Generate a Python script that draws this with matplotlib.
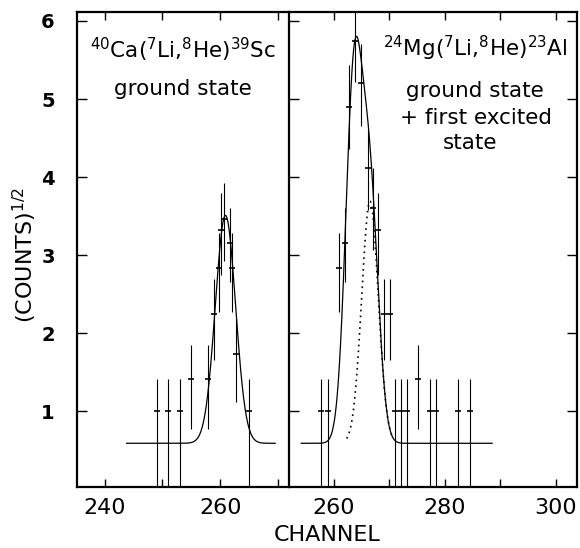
import matplotlib
matplotlib.use("Agg")
import matplotlib.pyplot as plt
import numpy as np

plt.rcParams['font.family'] = ['DejaVu Sans']
plt.rcParams['mathtext.default'] = 'regular'

# 40Ca(7Li,8He)39Sc  -- channel, sqrt(counts), error bar low / high
L_ch = [249.1, 251.0, 253.1, 255.0, 257.9, 259.0, 259.7, 260.1, 260.7, 261.7, 262.0, 262.8, 265.0]
L_val = [1.0, 1.0, 1.0, 1.41, 1.41, 2.24, 2.83, 3.32, 3.46, 3.16, 2.83, 1.73, 1.0]
L_lo = [0.0, 0.0, 0.0, 0.77, 0.77, 1.66, 2.27, 2.75, 2.92, 2.65, 2.27, 1.12, 0.0]
L_hi = [1.41, 1.41, 1.41, 1.85, 1.85, 2.70, 3.29, 3.79, 3.93, 3.60, 3.29, 2.18, 1.41]

# 24Mg(7Li,8He)23Al
R_ch = [257.7, 258.9, 260.9, 262.0, 262.7, 263.8, 264.9, 266.1, 267.0, 267.9,
        269.0, 270.1, 271.0, 272.1, 273.2, 275.2, 277.3, 278.4, 282.3, 284.5]
R_val = [1.0, 1.0, 2.83, 3.16, 4.90, 5.74, 5.20, 4.12, 3.61, 3.32,
         2.24, 2.24, 1.0, 1.0, 1.0, 1.41, 1.0, 1.0, 1.0, 1.0]
R_lo = [0.0, 0.0, 2.27, 2.65, 4.36, 5.22, 4.66, 3.58, 3.06, 2.75,
        1.66, 1.66, 0.0, 0.0, 0.0, 0.77, 0.0, 0.0, 0.0, 0.0]
R_hi = [1.41, 1.41, 3.29, 3.60, 5.43, 6.22, 5.70, 4.61, 4.12, 3.79,
        2.70, 2.70, 1.41, 1.41, 1.41, 1.85, 1.41, 1.41, 1.41, 1.41]

# fitted peaks: background, centre, height, width
bg = 0.59
L_fit = (260.9, 2.92, 1.75)
R_gs = (263.6, 4.6, 1.5)
R_ex = (266.5, 3.1, 1.5)
L_range = (243.8, 269.5)
R_range = (254.1, 288.5)


def peak(x, p):
    c, a, s = p
    return a * np.exp(-(x - c) ** 2 / (2 * s ** 2))


def draw_points(ax, ch, val, lo, hi):
    val = np.array(val)
    err = [val - np.array(lo), np.array(hi) - val]
    ax.errorbar(ch, val, yerr=err, fmt='none', ecolor='black', elinewidth=0.8, capsize=0)
    ax.plot(ch, val, ls='none', marker='_', ms=5, mew=1.2, color='black')


fig = plt.figure(figsize=(5.8, 5.48), dpi=100)
axL = fig.add_axes([77 / 580, 1 - 487 / 548, 212 / 580, 475 / 548])
axR = fig.add_axes([289 / 580, 1 - 487 / 548, 288 / 580, 475 / 548])

# left panel
x = np.linspace(*L_range, 400)
axL.plot(x, bg + peak(x, L_fit), color='black', lw=0.9)
draw_points(axL, L_ch, L_val, L_lo, L_hi)
axL.set_xlim(235.2, 271.9)
axL.set_xticks([240, 250, 260, 270])
axL.set_xticklabels(['240', '', '260', ''])

# right panel
x = np.linspace(*R_range, 600)
axR.plot(x, bg + peak(x, R_gs) + peak(x, R_ex), color='black', lw=0.9)
xd = np.linspace(262.3, 270.7, 200)
axR.plot(xd, bg + peak(xd, R_ex), color='black', lw=1.2, ls=(0, (1, 2.5)))
draw_points(axR, R_ch, R_val, R_lo, R_hi)
axR.set_xlim(251.9, 303.8)
axR.set_xticks([260, 270, 280, 290, 300])
axR.set_xticklabels(['260', '', '280', '', '300'])

for ax in (axL, axR):
    ax.set_ylim(0.03, 6.115)
    ax.set_yticks([1, 2, 3, 4, 5, 6])
    for sp in ax.spines.values():
        sp.set_linewidth(1.6)
    ax.tick_params(axis='x', direction='in', top=True, length=6, width=1, labelsize=16, pad=8)
    ax.tick_params(axis='y', direction='in', length=7, width=1)

axL.tick_params(axis='y', left=True, right=False, labelsize=14, pad=16)
for t in axL.get_yticklabels():
    t.set_fontweight('bold')
axR.tick_params(axis='y', left=True, right=True, labelleft=False)
axL.spines['right'].set_visible(False)

fs = 15.5
axL.text(0.5, 0.92, r'$^{40}$Ca($^{7}$Li,$^{8}$He)$^{39}$Sc', transform=axL.transAxes,
         ha='center', va='center', fontsize=fs)
axL.text(0.5, 0.838, 'ground state', transform=axL.transAxes, ha='center', va='center', fontsize=fs)
axR.text(0.646, 0.924, r'$^{24}$Mg($^{7}$Li,$^{8}$He)$^{23}$Al', transform=axR.transAxes,
         ha='center', va='center', fontsize=fs)
axR.text(0.645, 0.834, 'ground state', transform=axR.transAxes, ha='center', va='center', fontsize=fs)
axR.text(0.65, 0.777, '+ first excited', transform=axR.transAxes, ha='center', va='center', fontsize=fs)
axR.text(0.63, 0.724, 'state', transform=axR.transAxes, ha='center', va='center', fontsize=fs)

fig.text(327 / 580, 1 - 535 / 548, 'CHANNEL', ha='center', va='center', fontsize=16)
fig.text(25 / 580, 1 - 255 / 548, r'(COUNTS)$^{1/2}$', ha='center', va='center',
         rotation=90, fontsize=16)

fig.savefig('out.png', dpi=100)
